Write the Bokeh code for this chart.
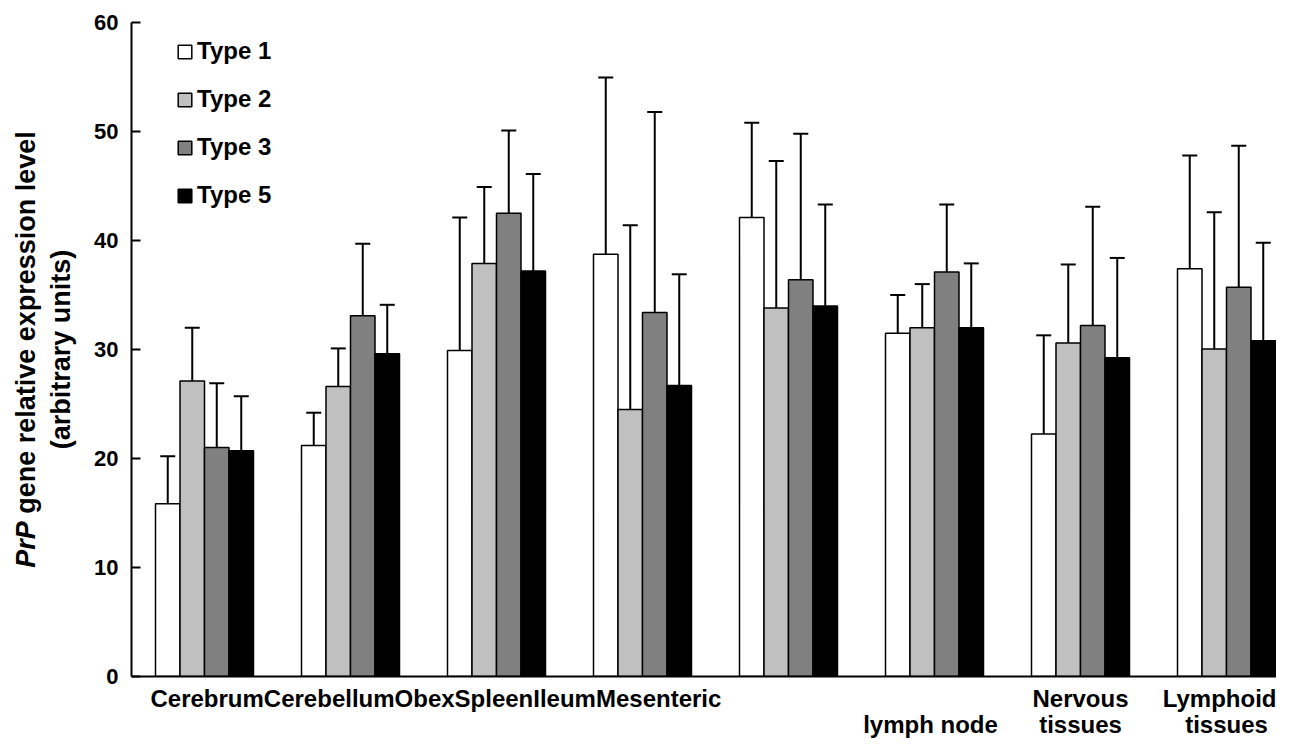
import numpy as np
from bokeh.plotting import figure
from bokeh.models import (ColumnDataSource, Whisker, TeeHead, Legend, LegendItem,
                          Label, FixedTicker, Range1d, LinearAxis)
from bokeh.embed import file_html
from bokeh.resources import INLINE

# ---- data ----
categories = ["Cerebrum", "Cerebellum", "Obex", "Spleen", "Ileum",
              "Mesenteric lymph node", "Nervous tissues", "Lymphoid tissues"]
series = ["Type 1", "Type 2", "Type 3", "Type 5"]
type1 = [15.85, 21.2, 29.9, 38.75, 42.1, 31.5, 22.25, 37.4]
type2 = [27.1, 26.6, 37.9, 24.5, 33.8, 32.0, 30.6, 30.05]
type3 = [21.0, 33.1, 42.5, 33.4, 36.4, 37.1, 32.2, 35.7]
type5 = [20.7, 29.6, 37.2, 26.7, 34.0, 32.0, 29.25, 30.8]
err1 = [4.35, 3.0, 12.2, 16.2, 8.7, 3.5, 9.05, 10.4]
err2 = [4.9, 3.5, 7.0, 16.9, 13.5, 4.0, 7.2, 12.55]
err3 = [5.9, 6.6, 7.6, 18.4, 13.4, 6.2, 10.9, 13.0]
err5 = [5.0, 4.5, 8.9, 10.2, 9.3, 5.9, 9.15, 9.0]
y_ticks = [0, 10, 20, 30, 40, 50, 60]

values = [type1, type2, type3, type5]
errors = [err1, err2, err3, err5]
colors = ["#FFFFFF", "#C0C0C0", "#808080", "#000000"]

FONT = "Liberation Sans"
W, H = 1276, 740
FL, FT, FB = 131, 22, 676          # frame left / top / bottom (px)
GROUP_PX = 146.0                   # px per category
x_end = (W - FL) / GROUP_PX
y_end = 60
py = (FB - FT) / y_end             # px per y unit

def dx(px):  # canvas px -> data x
    return (px - FL) / GROUP_PX

def dy(px):  # canvas px -> data y
    return (FB - px) / py

p = figure(width=W, height=H, output_backend="svg", toolbar_location=None,
           x_range=Range1d(0, x_end), y_range=Range1d(0, y_end),
           min_border_left=FL, min_border_right=0, min_border_top=FT,
           min_border_bottom=H - FB)
p.outline_line_color = None
p.grid.visible = False

bar_w = 24.5 / GROUP_PX
centers = np.arange(len(categories)) + 0.5
items = []
for k, (name, vals, errs, col) in enumerate(zip(series, values, errors, colors)):
    xs = centers + (k - 1.5) * bar_w
    v = np.array(vals)
    e = np.array(errs)
    src = ColumnDataSource(dict(x=xs, top=v, upper=v + e, lower=v))
    w = Whisker(base="x", upper="upper", lower="lower", source=src,
                line_color="black", line_width=2,
                upper_head=TeeHead(size=15, line_width=2, line_color="black"),
                lower_head=None)
    p.add_layout(w)
    r = p.vbar(x="x", top="top", width=bar_w, bottom=0, source=src,
               fill_color=col, line_color="black", line_width=1.5)
    items.append(LegendItem(label=name, renderers=[r]))

# legend
row_h, gap = 27.5, 20
legend_h = 4 * row_h + 3 * gap
legend = Legend(items=items, location=(176 - FL, FB - (39 + legend_h)),
                border_line_color=None, background_fill_alpha=0,
                padding=0, margin=0,
                glyph_width=17, glyph_height=17, label_height=24, spacing=gap,
                label_standoff=4, label_text_font=FONT,
                label_text_font_style="bold", label_text_font_size="24px",
                label_text_color="black")
p.add_layout(legend)

# y axis
p.yaxis.ticker = FixedTicker(ticks=y_ticks)
p.yaxis.major_tick_in = 9
p.yaxis.major_tick_out = 0
p.yaxis.minor_tick_line_color = None
p.yaxis.major_tick_line_width = 2
p.yaxis.axis_line_width = 2
p.yaxis.major_label_text_font = FONT
p.yaxis.major_label_text_font_style = "bold"
p.yaxis.major_label_text_font_size = "22px"
p.yaxis.major_label_standoff = 13
p.yaxis.major_label_text_color = "black"

# x axis: category labels as laid out in the source figure (two rows)
first_line = "".join(categories[:5]) + categories[5].split(" ")[0]
first_w = 23.785 * 24          # Arial-bold width of first_line at 24px
row1 = {round(dx(150 + first_w / 2), 4): first_line}
row2 = {round(dx(930), 4): " ".join(categories[5].split(" ")[1:])}
for i in (6, 7):
    w1, w2 = categories[i].split(" ")
    row1[round(float(centers[i]), 4)] = w1
    row2[round(float(centers[i]) + 0.0001, 4)] = w2

def style_xaxis(ax, standoff):
    ax.major_tick_line_color = None
    ax.minor_tick_line_color = None
    ax.major_tick_in = 0
    ax.major_tick_out = 0
    ax.major_label_standoff = standoff
    ax.major_label_text_font = FONT
    ax.major_label_text_font_style = "bold"
    ax.major_label_text_font_size = "24px"
    ax.major_label_text_color = "black"

xa = p.xaxis[0]
xa.ticker = FixedTicker(ticks=list(row1.keys()))
xa.major_label_overrides = row1
xa.axis_line_width = 2
style_xaxis(xa, 8)

xb = LinearAxis(ticker=FixedTicker(ticks=list(row2.keys())),
                major_label_overrides=row2, axis_line_color=None)
style_xaxis(xb, -4)
p.add_layout(xb, "below")

# y axis title (two lines centred on the plot, "PrP" in italics)
TS = 27
lbl_kw = dict(angle=np.pi / 2, text_font=FONT, text_font_size=f"{TS}px",
              text_color="black", text_baseline="middle", text_line_height=1.0)
line1_rest = "gene relative expression level"
em_prp = (667 + 389 + 667 + 278) / 1000        # "PrP " (Arial bold)
em_rest = 14.174                                # "gene relative expression level"
len1 = (em_prp + em_rest) * TS
mid = (FT + FB) / 2
start_px = mid + len1 / 2
p.add_layout(Label(x=dx(25), y=dy(start_px), text="PrP", text_align="left",
                   text_font_style="bold italic", **lbl_kw), "left")
p.add_layout(Label(x=dx(25), y=dy(start_px - em_prp * TS), text=line1_rest,
                   text_align="left", text_font_style="bold", **lbl_kw), "left")
p.add_layout(Label(x=dx(60), y=dy(mid), text="(arbitrary units)",
                   text_align="center", text_font_style="bold", **lbl_kw), "left")

open("out.html", "w").write(file_html(p, INLINE))
